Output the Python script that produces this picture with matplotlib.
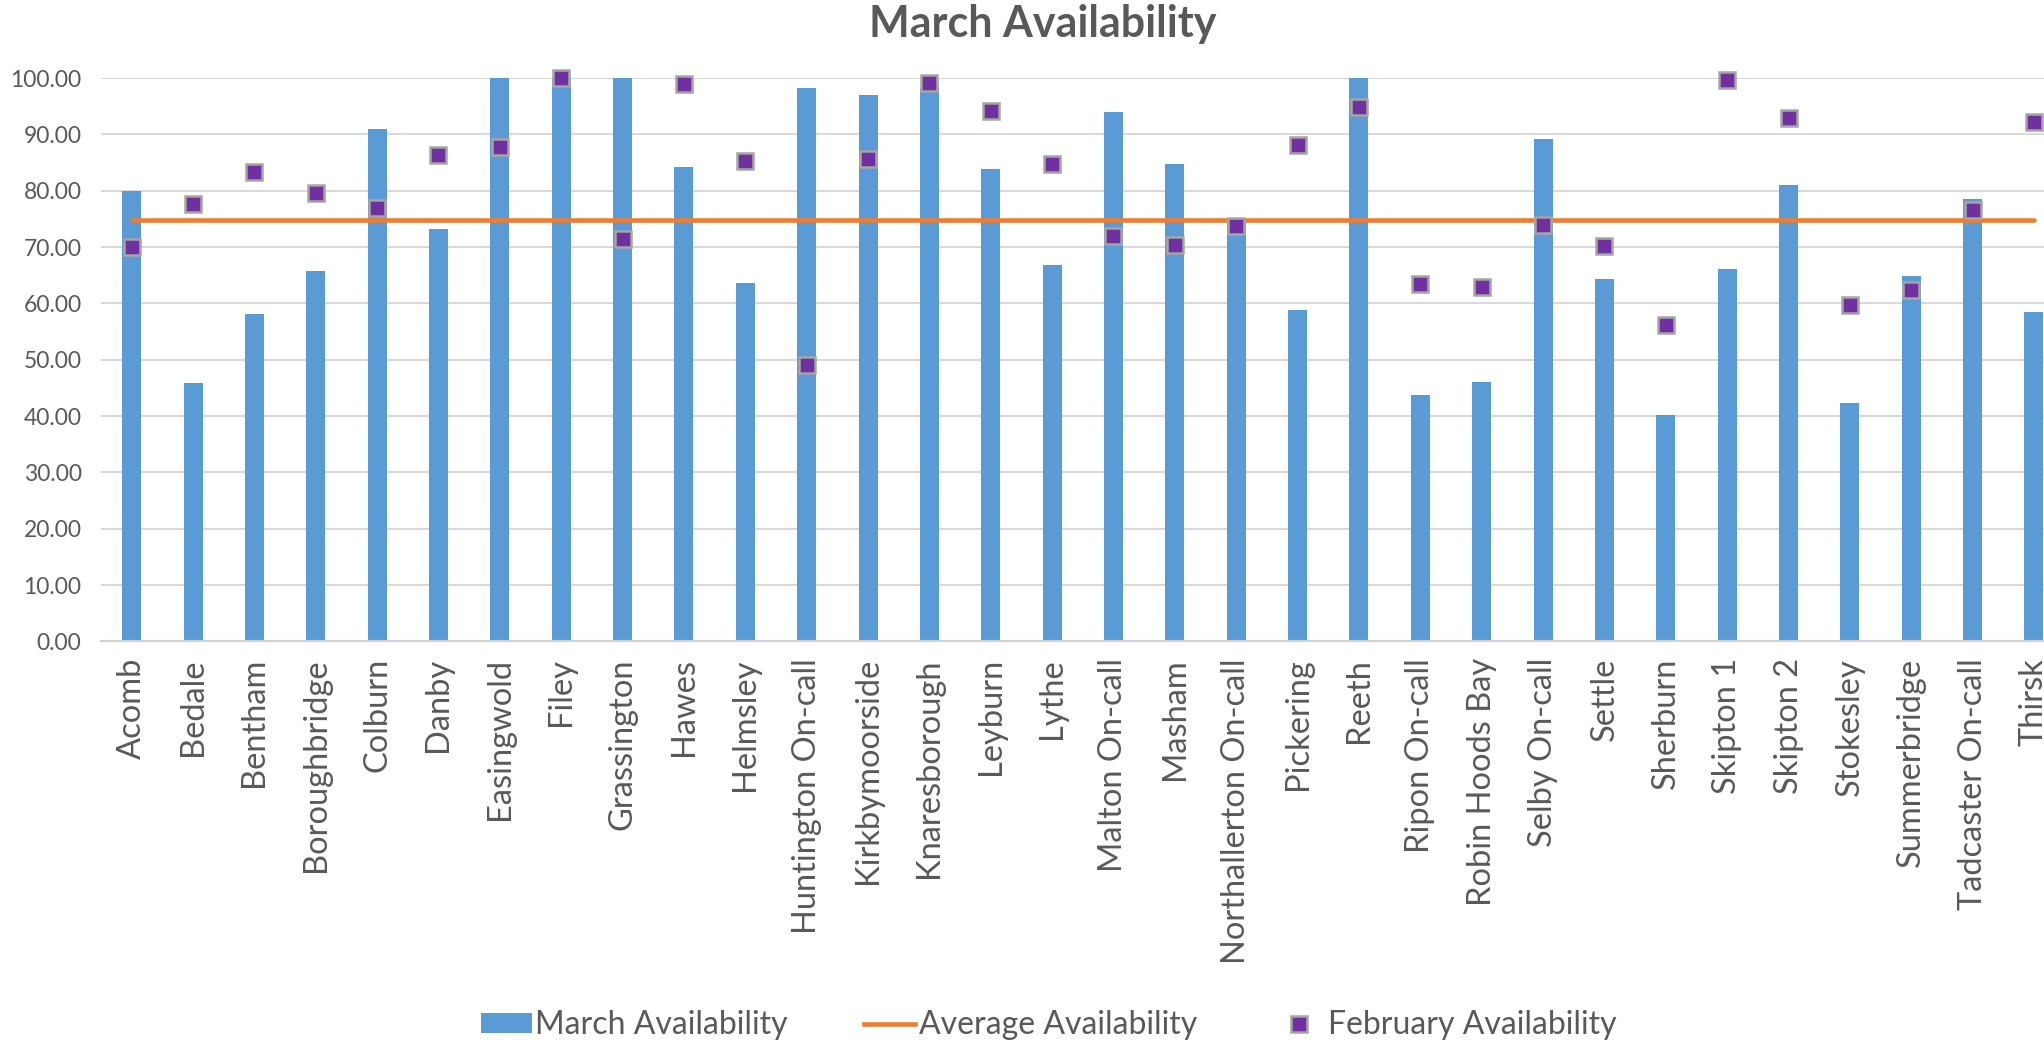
import matplotlib
matplotlib.use("Agg")
import matplotlib.pyplot as plt
from matplotlib.patches import Patch
from matplotlib.lines import Line2D

plt.rcParams['font.family'] = ['Lato', 'DejaVu Sans']

stations = ['Acomb', 'Bedale', 'Bentham', 'Boroughbridge', 'Colburn', 'Danby',
            'Easingwold', 'Filey', 'Grassington', 'Hawes', 'Helmsley',
            'Huntington On-call', 'Kirkbymoorside', 'Knaresborough', 'Leyburn',
            'Lythe', 'Malton On-call', 'Masham', 'Northallerton On-call',
            'Pickering', 'Reeth', 'Ripon On-call', 'Robin Hoods Bay',
            'Selby On-call', 'Settle', 'Sherburn', 'Skipton 1', 'Skipton 2',
            'Stokesley', 'Summerbridge', 'Tadcaster On-call', 'Thirsk']

march = [80.0, 45.8, 58.2, 65.8, 90.9, 73.3, 100.0, 100.0, 100.0, 84.2, 63.6,
         98.2, 97.0, 98.5, 83.8, 66.8, 94.0, 84.7, 75.1, 58.9, 100.0, 43.8,
         46.0, 89.2, 64.4, 40.2, 66.2, 81.1, 42.4, 64.8, 78.5, 58.5]

february = [70.0, 77.7, 83.4, 79.7, 76.9, 86.4, 87.7, 100.0, 71.4, 98.9, 85.3,
            49.1, 85.7, 99.1, 94.2, 84.7, 72.0, 70.4, 73.8, 88.1, 94.8, 63.5,
            63.0, 74.0, 70.2, 56.1, 99.7, 92.9, 59.8, 62.4, 76.6, 92.2]

average = [74.8] * len(stations)

grey = '#595959'
x = list(range(len(stations)))

fig = plt.figure(figsize=(20.44, 10.42), dpi=100)
ax = fig.add_axes([0.0494, 0.3844, 0.9607, 0.5406])

ax.bar(x, march, width=0.31, color='#5B9BD5', zorder=2)
ax.plot(x, average, color='#ED7D31', linewidth=3.3, solid_capstyle='round', zorder=3)
ax.plot(x, february, linestyle='none', marker='s', markersize=12,
        markerfacecolor='#7030A0', markeredgecolor='#A5A5A5', markeredgewidth=1.8,
        zorder=4, clip_on=False)

ax.set_xlim(-0.5, len(stations) - 0.5)
ax.set_ylim(0, 100)
ax.set_yticks(range(0, 101, 10))
ax.set_yticklabels(['%.2f' % v for v in range(0, 101, 10)])
ax.set_xticks(x)
ax.set_xticklabels(stations, rotation=90)

ax.yaxis.grid(True, color='#D9D9D9', linewidth=1.5, zorder=0)
ax.set_axisbelow(True)
for s in ['top', 'right', 'left']:
    ax.spines[s].set_visible(False)
ax.spines['bottom'].set_color('#D0D0D0')
ax.spines['bottom'].set_linewidth(1.5)

ax.tick_params(axis='y', length=0, pad=14, labelsize=16.5, labelcolor=grey)
ax.tick_params(axis='x', length=0, pad=12, labelsize=23.5, labelcolor=grey)

fig.text(0.510, 0.977, 'March Availability', ha='center', va='center',
         fontsize=31, fontweight='bold', color=grey)

handles = [Patch(facecolor='#5B9BD5', edgecolor='none'),
           Line2D([], [], color='#ED7D31', linewidth=3.3),
           Line2D([], [], linestyle='none', marker='s', markersize=12,
                  markerfacecolor='#7030A0', markeredgecolor='#A5A5A5', markeredgewidth=1.8)]
labels = ['March Availability', 'Average Availability', 'February Availability']
fig.legend(handles, labels, loc='center', bbox_to_anchor=(0.513, 0.016), ncol=3,
           frameon=False, fontsize=23, labelcolor=grey, handlelength=1.6,
           handleheight=0.6, handletextpad=0.1, columnspacing=2.4)

fig.savefig('out.png', dpi=100)
